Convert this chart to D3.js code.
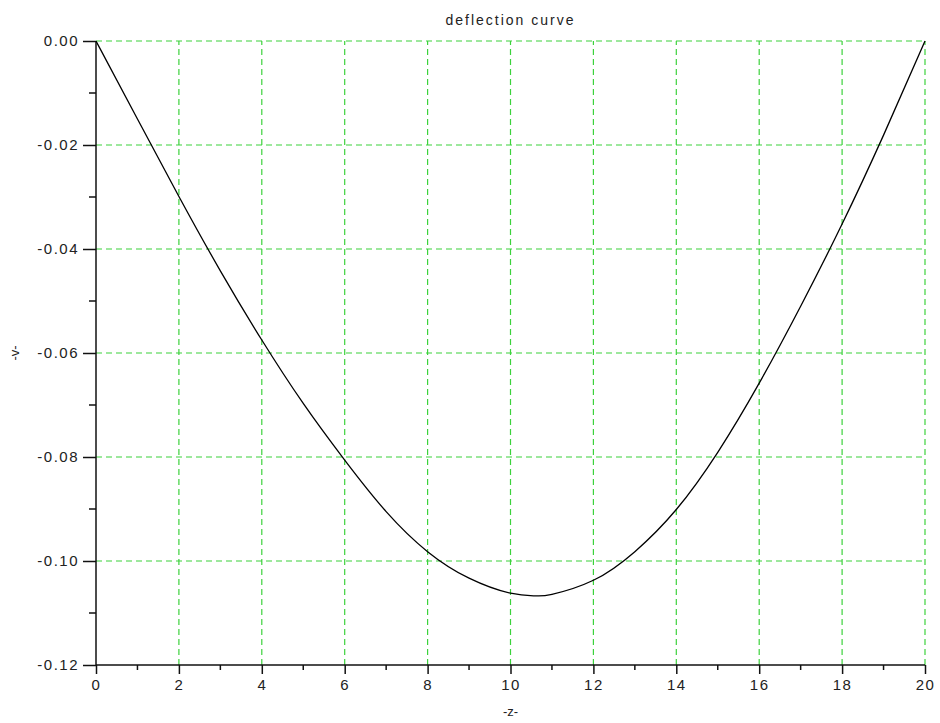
<!DOCTYPE html>
<html>
<head>
<meta charset="utf-8">
<script src="https://cdn.jsdelivr.net/npm/d3@7"></script>
<style>
body { margin: 0; background: #fff; }
text { font-family: "Liberation Sans", Arial, sans-serif; fill: #222; }
</style>
</head>
<body>
<div class="module"></div>
<script>
// values
const zVals = [0, 1, 2, 3, 4, 5, 6, 7, 8, 9, 10, 10.6, 11, 12, 13, 14, 15, 16, 17, 18, 19, 20];
const vVals = [0, -0.0150, -0.0299, -0.0442, -0.0575, -0.0697, -0.0806, -0.0905, -0.0982, -0.1033,
	-0.1062, -0.1067, -0.1064, -0.1037, -0.0982, -0.0901, -0.0791, -0.0658, -0.0510, -0.0352, -0.0181, 0];
const xTicks = [0, 2, 4, 6, 8, 10, 12, 14, 16, 18, 20];
const yTicks = [0, -0.02, -0.04, -0.06, -0.08, -0.10, -0.12];

drawChart(d3.select('.module').node());

function drawChart(rootDOM){
	const W = 940;
	const H = 723;
	const m = {l: 96, r: 15, t: 41, b: 58};

	const x = d3.scaleLinear().domain([0, 20]).range([m.l, W - m.r]);
	const y = d3.scaleLinear().domain([-0.12, 0]).range([H - m.b, m.t]);

	const svg = d3.select(rootDOM)
		.append('svg')
		.attr('width', W)
		.attr('height', H);

	// grid
	const grid = svg.append('g').attr('stroke', '#3cd23c').attr('stroke-width', 1.2).attr('stroke-dasharray', '6,4');
	grid.selectAll('.gx').data(xTicks.slice(1)).enter().append('line')
		.attr('x1', d => x(d)).attr('x2', d => x(d))
		.attr('y1', y(-0.12)).attr('y2', y(0));
	grid.selectAll('.gy').data(yTicks.slice(0, -1)).enter().append('line')
		.attr('x1', x(0)).attr('x2', x(20))
		.attr('y1', d => y(d)).attr('y2', d => y(d));

	// axes
	const fmt = d => d3.format('.2f')(d).replace('\u2212', '-');
	const xAxis = d3.axisBottom(x).tickValues(xTicks).tickFormat(d3.format('d')).tickSize(9).tickPadding(5);
	const yAxis = d3.axisLeft(y).tickValues(yTicks).tickFormat(fmt).tickSize(13).tickPadding(4);

	const gx = svg.append('g').attr('transform', `translate(0,${y(-0.12)})`).call(xAxis);
	const gy = svg.append('g').attr('transform', `translate(${x(0)},0)`).call(yAxis);

	// minor ticks
	gx.selectAll('.minor').data(d3.range(1, 20, 2)).enter().append('line')
		.attr('x1', d => x(d)).attr('x2', d => x(d)).attr('y1', 0).attr('y2', 5)
		.attr('stroke', '#111').attr('stroke-width', 1.5);
	gy.selectAll('.minor').data([-0.01, -0.03, -0.05, -0.07, -0.09, -0.11]).enter().append('line')
		.attr('y1', d => y(d)).attr('y2', d => y(d)).attr('x1', 0).attr('x2', -7)
		.attr('stroke', '#111').attr('stroke-width', 1.5);

	[gx, gy].forEach(g => {
		g.select('.domain').attr('stroke', '#111').attr('stroke-width', 1.5);
		g.selectAll('.tick line').attr('stroke', '#111').attr('stroke-width', 1.5);
		g.selectAll('.tick text')
			.style('font-family', '"Liberation Sans", Arial, sans-serif')
			.style('font-size', '15px').style('letter-spacing', '1.5px').attr('fill', '#222');
	});
	gy.select('.domain').attr('d', `M0,${y(-0.12)}V${y(0)}`);
	gx.select('.domain').attr('d', `M${x(0)},0H${x(20)}`);

	// curve
	const line = d3.line()
		.x((d, i) => x(zVals[i]))
		.y(d => y(d))
		.curve(d3.curveNatural);
	svg.append('path')
		.datum(vVals)
		.attr('d', line)
		.attr('fill', 'none')
		.attr('stroke', '#000')
		.attr('stroke-width', 1.3);

	// titles
	svg.append('text')
		.attr('x', (x(0) + x(20)) / 2).attr('y', 25)
		.attr('text-anchor', 'middle')
		.style('font-size', '14px').style('letter-spacing', '2px')
		.text('deflection curve');
	svg.append('text')
		.attr('x', (x(0) + x(20)) / 2).attr('y', 716)
		.attr('text-anchor', 'middle')
		.style('font-size', '13px')
		.text('-z-');
	svg.append('text')
		.attr('transform', `translate(19,${(y(0) + y(-0.12)) / 2}) rotate(-90)`)
		.attr('text-anchor', 'middle')
		.style('font-size', '13px')
		.text('-v-');
}
</script>
</body>
</html>
